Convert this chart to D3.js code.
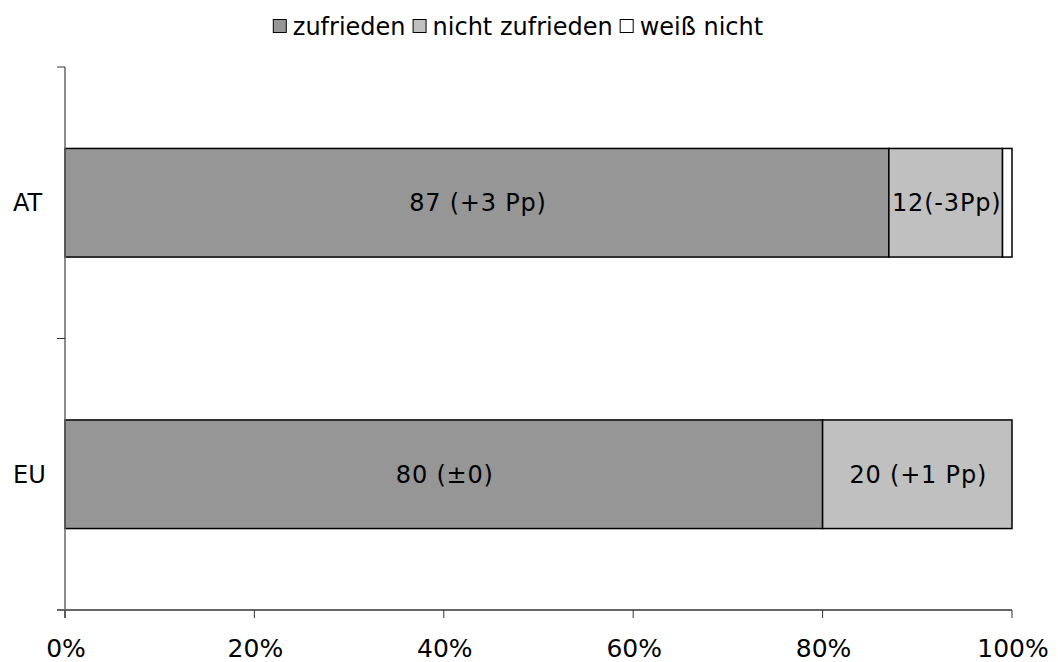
<!DOCTYPE html>
<html>
<head>
<meta charset="utf-8">
<script src="https://cdn.jsdelivr.net/npm/d3@7"></script>
<style>
  body { margin: 0; background: #fff; }
  text { font-family: "DejaVu Sans", Verdana, sans-serif; fill: #000; }
</style>
</head>
<body>
<div id="chart"></div>
<script>
/* 100% stacked bars: Zufriedenheit AT vs EU */

const categories = ["AT", "EU"];
const seriesNames = ["zufrieden", "nicht zufrieden", "weiß nicht"];
const seriesColors = ["#969696", "#c0c0c0", "#ffffff"];
const zufrieden = [87, 80];
const nichtZufrieden = [12, 20];
const weissNicht = [1, 0];
const segmentLabels = [
    ["87 (+3 Pp)", "12(-3Pp)", ""],
    ["80 (±0)", "20 (+1 Pp)", ""]
];
const xTicks = [0, 20, 40, 60, 80, 100];

const W = 1058, H = 662;
const margin = { top: 67, right: 46, bottom: 52, left: 65 };
const width = W - margin.left - margin.right;
const height = H - margin.top - margin.bottom;

const svgRoot = d3.select("#chart").append("svg")
    .attr("width", W)
    .attr("height", H);

const svg = svgRoot.append("g")
    .attr("transform", `translate(${margin.left},${margin.top})`);

const x = d3.scaleLinear().domain([0, 100]).range([0, width]);
const y = d3.scaleBand().domain(categories).range([0, height]).paddingInner(0.6).paddingOuter(0.3);
const yOuter = d3.scaleBand().domain(categories).range([0, height]);

// build stacked rows
const rows = categories.map((c, i) => ({
    cat: c,
    values: [zufrieden[i], nichtZufrieden[i], weissNicht[i]]
}));

rows.forEach((row, ri) => {
    let acc = 0;
    row.values.forEach((v, si) => {
        const x0 = acc;
        acc += v;
        if (v <= 0) return;
        svg.append("rect")
            .attr("x", x(x0))
            .attr("y", yOuter(row.cat) + (yOuter.bandwidth() - y.bandwidth()) / 2)
            .attr("width", x(acc) - x(x0))
            .attr("height", y.bandwidth())
            .attr("fill", seriesColors[si])
            .attr("stroke", "#000")
            .attr("stroke-width", 1.5);
        const lab = segmentLabels[ri][si];
        if (lab) {
            svg.append("text")
                .attr("x", (x(x0) + x(acc)) / 2 + 1)
                .attr("y", yOuter(row.cat) + yOuter.bandwidth() / 2)
                .attr("dy", "0.35em")
                .attr("text-anchor", "middle")
                .attr("font-size", "24px")
                .attr("letter-spacing", "0.8px")
                .text(lab);
        }
    });
});

// Y axis (category boundaries as ticks)
svg.append("line")
    .attr("x1", 0).attr("x2", 0)
    .attr("y1", 0).attr("y2", height + 8)
    .attr("stroke", "#666").attr("stroke-width", 1.5);

const boundaries = [0].concat(categories.map(c => yOuter(c) + yOuter.bandwidth()));
svg.selectAll(".ytick")
    .data(boundaries)
    .enter()
    .append("line")
    .attr("x1", -8).attr("x2", 0)
    .attr("y1", d => d).attr("y2", d => d)
    .attr("stroke", "#333").attr("stroke-width", 1);

svg.selectAll(".ylabel")
    .data(categories)
    .enter()
    .append("text")
    .attr("x", -52)
    .attr("y", d => yOuter(d) + yOuter.bandwidth() / 2)
    .attr("dy", "0.35em")
    .attr("font-size", "24px")
    .text(d => d);

// X axis
svg.append("line")
    .attr("x1", -8).attr("x2", width)
    .attr("y1", height).attr("y2", height)
    .attr("stroke", "#666").attr("stroke-width", 2);

svg.selectAll(".xtick")
    .data(xTicks)
    .enter()
    .append("line")
    .attr("x1", d => x(d)).attr("x2", d => x(d))
    .attr("y1", height).attr("y2", height + 8)
    .attr("stroke", "#333").attr("stroke-width", 1);

svg.selectAll(".xlabel")
    .data(xTicks)
    .enter()
    .append("text")
    .attr("x", d => x(d) + 1)
    .attr("y", height + 47)
    .attr("text-anchor", "middle")
    .attr("font-size", "25px")
    .text(d => d + "%");

// Legend
const legend = svgRoot.append("g");
let lx = 0;
seriesNames.forEach((name, i) => {
    const item = legend.append("g").attr("transform", `translate(${lx},0)`);
    item.append("rect")
        .attr("x", 0.5).attr("y", -15.5)
        .attr("width", 13).attr("height", 13)
        .attr("fill", seriesColors[i])
        .attr("stroke", "#000")
        .attr("stroke-width", 1);
    const t = item.append("text")
        .attr("x", 20)
        .attr("y", 0)
        .attr("font-size", "24px")
        .text(name);
    lx += 20 + t.node().getComputedTextLength() + 7;
});
const legendWidth = lx - 7;
legend.attr("transform", `translate(${518 - legendWidth / 2},35)`);
</script>
</body>
</html>
